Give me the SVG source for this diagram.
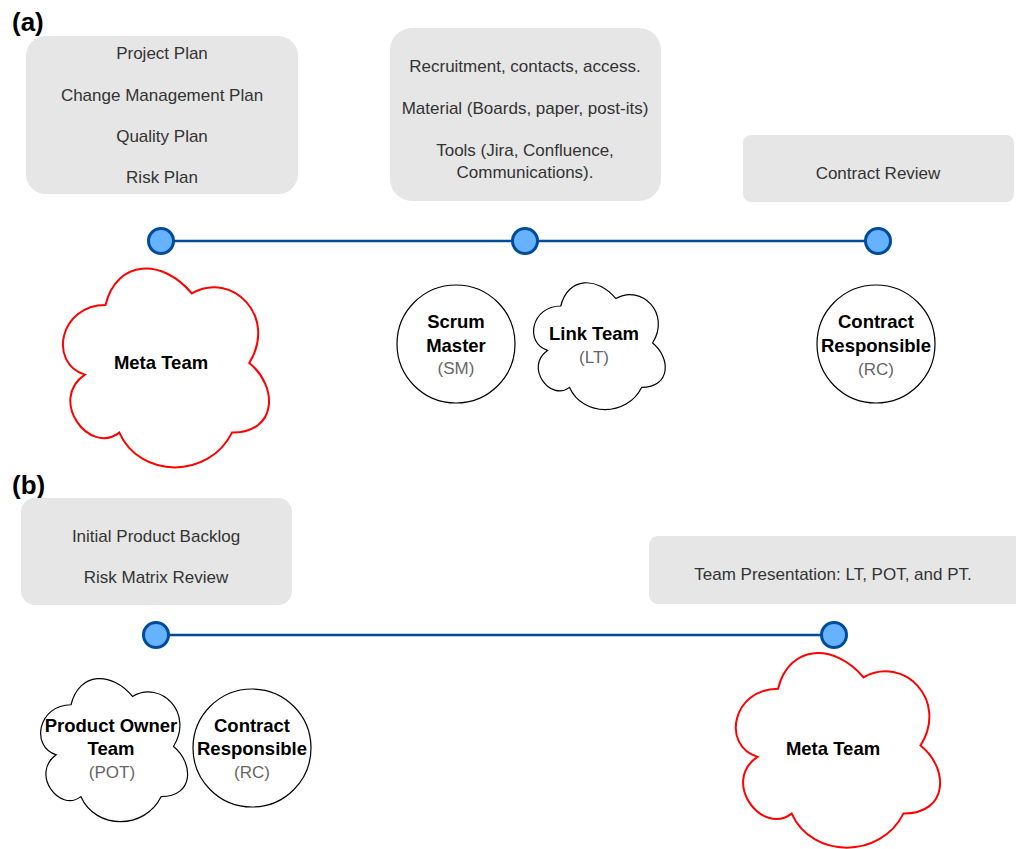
<svg xmlns="http://www.w3.org/2000/svg" width="1016" height="849" viewBox="0 0 1016 849">
<style>
.box{fill:#e6e6e6;stroke:none}
.t{font-family:"Liberation Sans",Arial,sans-serif;font-size:17px;fill:#333;text-anchor:middle}
.b{font-family:"Liberation Sans",Arial,sans-serif;font-size:18.5px;font-weight:bold;fill:#000;text-anchor:middle}
.p{font-family:"Liberation Sans",Arial,sans-serif;font-size:17px;fill:#666;text-anchor:middle}
.lbl{font-family:"Liberation Sans",Arial,sans-serif;font-size:26px;font-weight:bold;fill:#000}
.tl{stroke:#004c99;stroke-width:2.5;fill:none}
.dot{fill:#66b2ff;stroke:#004c99;stroke-width:3}
.red{fill:#fff;stroke:#ff0000;stroke-width:2}
.blk{fill:#fff;stroke:#000;stroke-width:1.2}
</style>
<rect width="1016" height="849" fill="#fff"/>
<text class="lbl" x="12" y="31">(a)</text>
<text class="lbl" x="12" y="494">(b)</text>

<g id="connectors">
<line class="tl" x1="161" y1="241" x2="878" y2="241"/>
<line class="tl" x1="156" y1="635" x2="834" y2="635"/>
</g>

<g id="box-a1">
<rect class="box" x="26" y="36" width="272" height="158" rx="20"/>
<text class="t" x="162" y="59">Project Plan</text>
<text class="t" x="162" y="101">Change Management Plan</text>
<text class="t" x="162" y="142">Quality Plan</text>
<text class="t" x="162" y="183">Risk Plan</text>
</g>
<g id="box-a2">
<rect class="box" x="390" y="28" width="271" height="173" rx="22"/>
<text class="t" x="525" y="72">Recruitment, contacts, access.</text>
<text class="t" x="525" y="114">Material (Boards, paper, post-its)</text>
<text class="t" x="525" y="156">Tools (Jira, Confluence,</text>
<text class="t" x="525" y="178">Communications).</text>
</g>
<g id="box-a3">
<rect class="box" x="743" y="135" width="271" height="67" rx="8"/>
<text class="t" x="878" y="179">Contract Review</text>
</g>

<g id="dot-a1"><circle class="dot" cx="161" cy="241" r="12.5"/></g>
<g id="dot-a2"><circle class="dot" cx="525" cy="241" r="12.5"/></g>
<g id="dot-a3"><circle class="dot" cx="878" cy="241" r="12.5"/></g>

<g id="meta-team-a">
<path class="red" d="M105.5,305 C59.5,305 48,363 84.8,374.6 C48,400.1 89.4,455.8 119.3,432.6 C140,479 209,479 232,432.6 C278,432.6 278,386.2 249.25,363 C278,316.6 232,270.2 191.75,293.4 C163,258.6 117,258.6 105.5,305 Z"/>
<text class="b" x="161" y="369">Meta Team</text>
</g>
<g id="scrum-master">
<circle class="blk" cx="456" cy="344" r="59"/>
<text class="b" x="456" y="328">Scrum</text>
<text class="b" x="456" y="352">Master</text>
<text class="p" x="456" y="374">(SM)</text>
</g>
<g id="link-team">
<path class="blk" d="M560.75,306 C531.35,306 524,343 547.52,350.4 C524,366.7 550.46,402.2 569.57,387.4 C582.8,417 626.9,417 641.6,387.4 C671,387.4 671,357.8 652.6,343 C671,313.4 641.6,283.8 615.9,298.6 C597.5,276.4 568.1,276.4 560.75,306 Z"/>
<text class="b" x="594" y="340">Link Team</text>
<text class="p" x="594" y="363">(LT)</text>
</g>
<g id="contract-responsible-a">
<circle class="blk" cx="876" cy="344" r="59"/>
<text class="b" x="876" y="328">Contract</text>
<text class="b" x="876" y="352">Responsible</text>
<text class="p" x="876" y="375">(RC)</text>
</g>

<g id="box-b1">
<rect class="box" x="21" y="498" width="271" height="107" rx="14"/>
<text class="t" x="156" y="542">Initial Product Backlog</text>
<text class="t" x="156" y="583">Risk Matrix Review</text>
</g>
<g id="box-b2">
<rect class="box" x="649" y="536" width="380" height="68" rx="9"/>
<text class="t" x="833" y="580">Team Presentation: LT, POT, and PT.</text>
</g>

<g id="dot-b1"><circle class="dot" cx="156" cy="635" r="12.5"/></g>
<g id="dot-b2"><circle class="dot" cx="834" cy="635" r="12.5"/></g>

<g id="product-owner-team">
<path class="blk" d="M71,704.75 C38.2,704.75 30,746.5 56.24,754.85 C30,773.22 59.52,813.3 80.84,796.6 C95.6,830 144.8,830 161.2,796.6 C194,796.6 194,763.2 173.5,746.5 C194,713.1 161.2,679.7 132.5,696.4 C112,671.35 79.2,671.35 71,704.75 Z"/>
<text class="b" x="111" y="732">Product Owner</text>
<text class="b" x="111" y="755">Team</text>
<text class="p" x="112" y="778">(POT)</text>
</g>
<g id="contract-responsible-b">
<circle class="blk" cx="252" cy="748" r="59"/>
<text class="b" x="252" y="732">Contract</text>
<text class="b" x="252" y="755">Responsible</text>
<text class="p" x="252" y="778">(RC)</text>
</g>
<g id="meta-team-b">
<path class="red" d="M778,688.75 C732.4,688.75 721,745.5 757.48,756.85 C721,781.82 762.04,836.3 791.68,813.6 C812.2,859 880.6,859 903.4,813.6 C949,813.6 949,768.2 920.5,745.5 C949,700.1 903.4,654.7 863.5,677.4 C835,643.35 789.4,643.35 778,688.75 Z"/>
<text class="b" x="833" y="755">Meta Team</text>
</g>
</svg>
